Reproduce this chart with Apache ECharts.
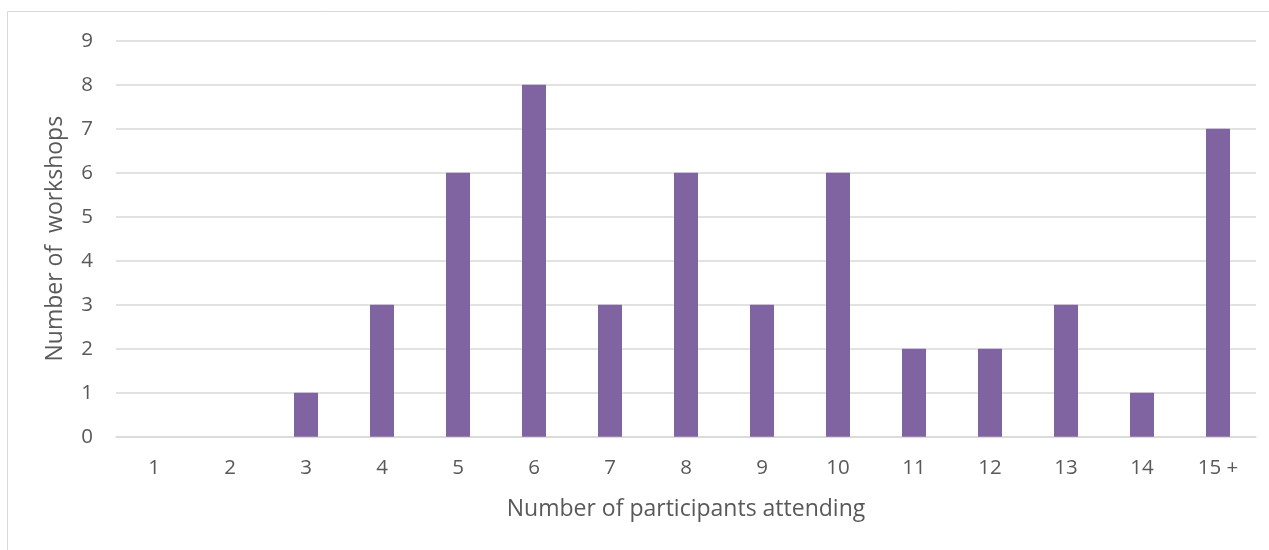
<!DOCTYPE html>
<html>
<head>
<meta charset="utf-8">
<script src="https://cdn.jsdelivr.net/npm/echarts@6/dist/echarts.min.js"></script>
<style>
html,body{margin:0;padding:0;background:#fff;}
#chart{width:1269px;height:550px;}
</style>
</head>
<body>
<div id="chart"></div>
<script>
const categories = ['1','2','3','4','5','6','7','8','9','10','11','12','13','14','15 +'];
const workshops = [0,0,1,3,6,8,3,6,3,6,2,2,3,1,7];
const yTicks = {min:0, max:9, interval:1};

const FONT = '"Open Sans", sans-serif';
const TXT = '#595959';
const chart = echarts.init(document.getElementById('chart'), null, {renderer:'canvas'});
chart.setOption({
  animation:false,
  backgroundColor:'#fff',
  graphic:[{
    type:'rect', silent:true,
    shape:{x:7.5, y:11.5, width:1400, height:700},
    style:{fill:'none', stroke:'#d9d9d9', lineWidth:1}
  }],
  grid:{left:116, right:13, top:40.7, bottom:113.3, containLabel:false},
  xAxis:{
    type:'category', data:categories,
    name:'Number of participants attending', nameLocation:'middle', nameGap:61,
    nameTextStyle:{fontFamily:FONT, fontSize:23, color:TXT},
    axisLine:{show:true, lineStyle:{color:'#d9d9d9', width:1.5}},
    axisTick:{show:false},
    axisLabel:{fontFamily:FONT, fontSize:20.5, color:TXT, margin:21}
  },
  yAxis:{
    type:'value', min:yTicks.min, max:yTicks.max, interval:yTicks.interval,
    name:'Number of  workshops', nameLocation:'middle', nameGap:49, nameRotate:90,
    nameTextStyle:{fontFamily:FONT, fontSize:23, color:TXT},
    axisLine:{show:false}, axisTick:{show:false},
    axisLabel:{fontFamily:FONT, fontSize:20.5, color:TXT, margin:23},
    splitLine:{lineStyle:{color:'#d9d9d9', width:1.5}}
  },
  series:[{
    type:'bar', data:workshops, barWidth:24,
    itemStyle:{color:'#8064A2'}
  }]
});
</script>
</body>
</html>
